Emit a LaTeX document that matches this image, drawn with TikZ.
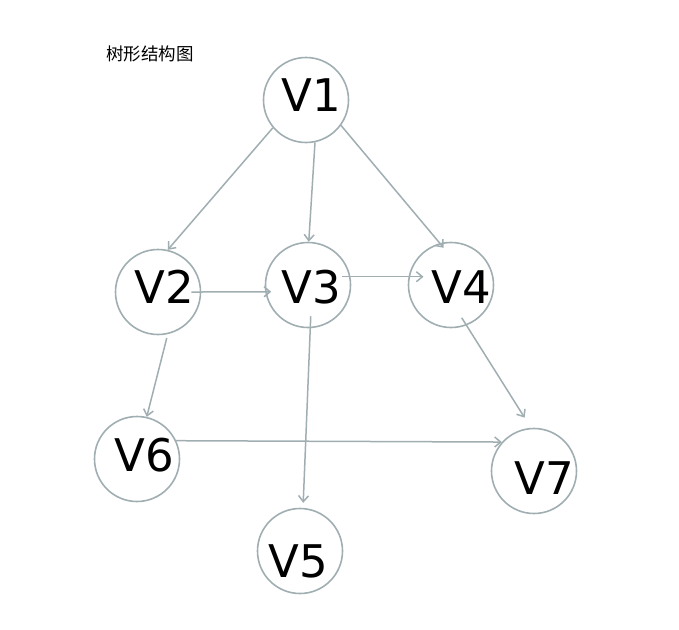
\documentclass[tikz,border=0pt]{standalone}
\usepackage{fontspec}
\setmainfont{DejaVu Sans}
\newfontfamily\cjk{Noto Sans CJK SC}
\usetikzlibrary{arrows.meta}
\definecolor{treeline}{HTML}{A0AEB2}

\tikzset{
  vtx/.style={circle,draw=treeline,line width=1.6pt,minimum size=85pt,inner sep=0pt},
  lbl/.style={font=\fontsize{45}{45}\selectfont,text=black,inner sep=0pt},
  edge/.style={draw=treeline,line width=1.5pt,-{Straight Barb[length=6pt,width=10pt,line width=1.5pt]}},
}

\begin{document}
\begin{tikzpicture}[x=1pt,y=-1pt]
  \useasboundingbox (0,0) rectangle (679,629);
  \node[font=\cjk\fontsize{17.5}{17.5}\selectfont,inner sep=0pt] (title) at (150,54) {树形结构图};
  % vertices, labels set a little off centre as in the sketch
  \node[vtx,label={[lbl,xshift=5.5pt,yshift=4.5pt]center:V1}] (v1) at (306,100) {};
  \node[vtx,label={[lbl,xshift=6pt,yshift=5pt]center:V2}] (v2) at (158,292) {};
  \node[vtx,label={[lbl,xshift=3pt,yshift=-2pt]center:V3}] (v3) at (308,285) {};
  \node[vtx,label={[lbl,xshift=10pt,yshift=-2pt]center:V4}] (v4) at (451,285) {};
  \node[vtx,label={[lbl,xshift=7pt,yshift=3.5pt]center:V6}] (v6) at (137,459) {};
  \node[vtx,label={[lbl,xshift=-2pt,yshift=-10.5pt]center:V5}] (v5) at (300,551) {};
  \node[vtx,label={[lbl,xshift=10pt,yshift=-7pt]center:V7}] (v7) at (534,471) {};
  % arrows
  \draw[edge] (v1.220) -- (v2.77);
  \draw[edge] (v1.282) -- (v3.89);
  \draw[edge,shorten >=-6pt] (v1.324) -- (v4.105);
  \draw[edge,shorten <=-10pt,shorten >=-6pt] (v2.0) -- (v3.189);
  \draw[edge,shorten <=-9pt,shorten >=-15pt] (v3.11) -- (v4.169);
  \draw[edge,shorten <=-12pt,shorten >=5pt] (v3.273) -- (v5.86);
  \draw[edge,shorten <=-9pt,shorten >=12pt] (v4.291) -- (v7.94);
  \draw[edge,shorten <=4pt] (v2.283) -- (v6.77);
  \draw[edge] (v6.25) -- (v7.138);
\end{tikzpicture}
\end{document}
